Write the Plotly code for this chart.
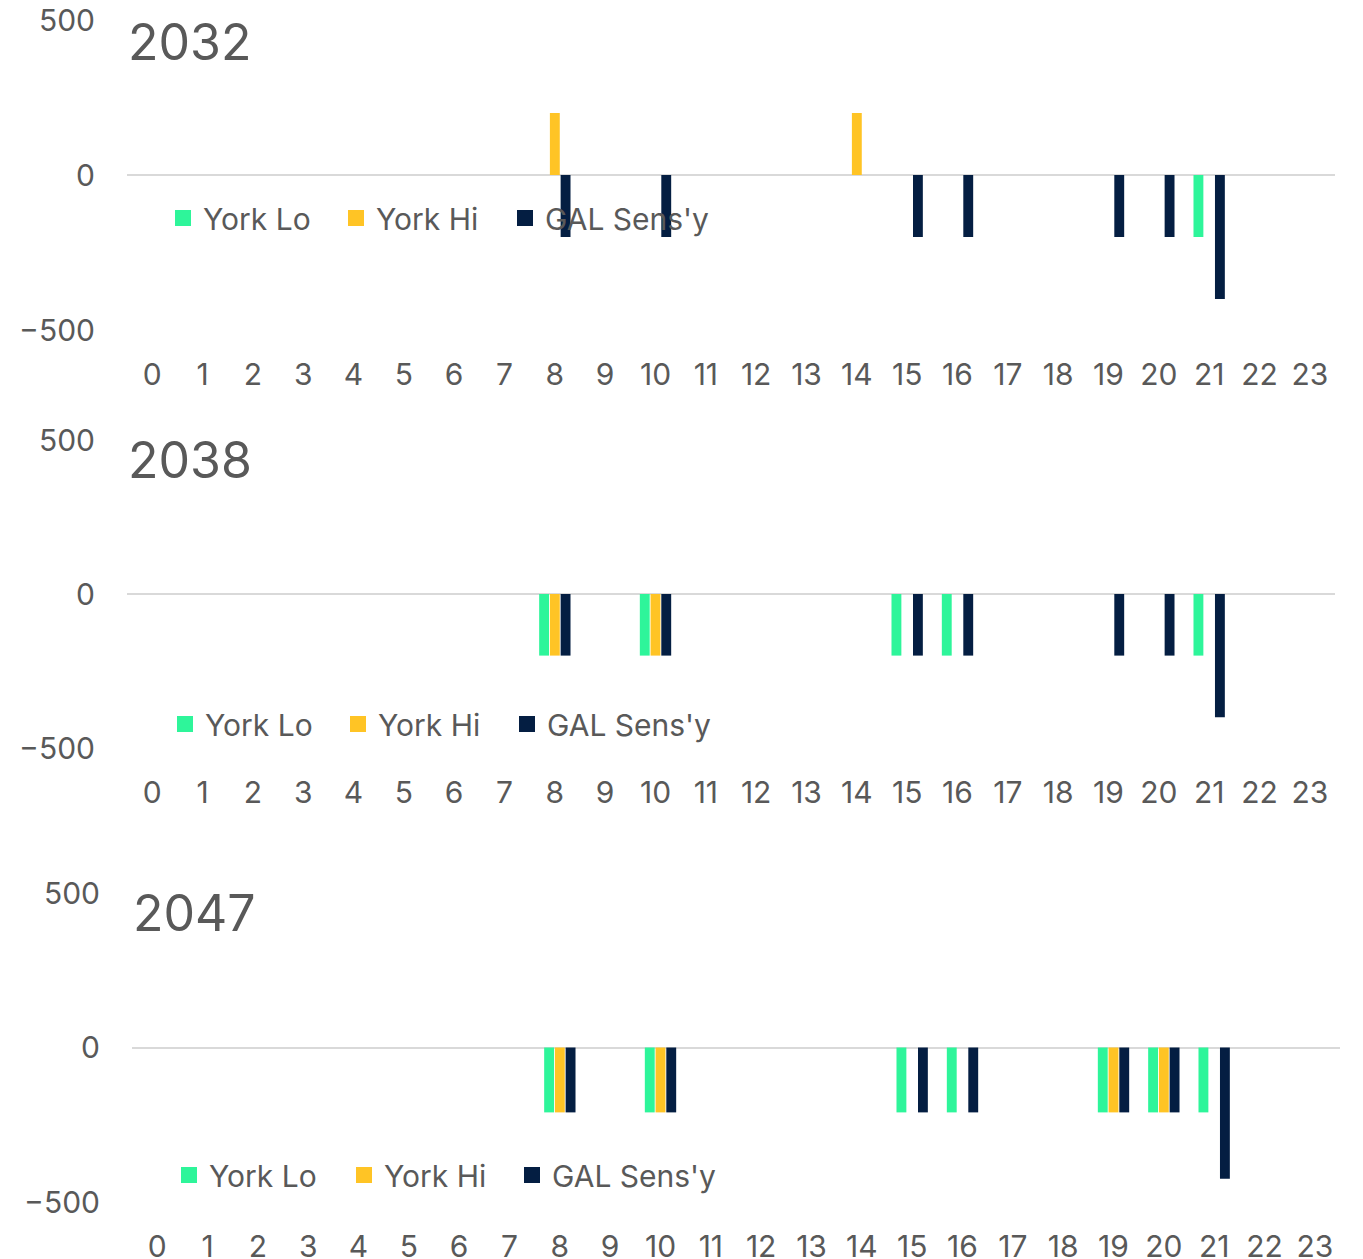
import plotly.graph_objects as go

hours = list(range(24))
series_names = ["York Lo", "York Hi", "GAL Sens'y"]
colors = ["#2EF59A", "#FFC425", "#041E42"]
years = ["2032", "2038", "2047"]

# values per year per series (0 = no bar)
lo_2032 = [0]*21 + [-200, 0, 0]
hi_2032 = [0]*8 + [200] + [0]*5 + [200] + [0]*9
gal_2032 = [0]*8 + [-200, 0, -200, 0, 0, 0, 0, -200, -200, 0, 0, -200, -200, -400, 0, 0]

lo_2038 = [0]*8 + [-200, 0, -200, 0, 0, 0, 0, -200, -200, 0, 0, 0, 0, -200, 0, 0]
hi_2038 = [0]*8 + [-200, 0, -200] + [0]*13
gal_2038 = [0]*8 + [-200, 0, -200, 0, 0, 0, 0, -200, -200, 0, 0, -200, -200, -400, 0, 0]

lo_2047 = [0]*8 + [-210, 0, -210, 0, 0, 0, 0, -210, -210, 0, 0, -210, -210, -210, 0, 0]
hi_2047 = [0]*8 + [-210, 0, -210, 0, 0, 0, 0, 0, 0, 0, 0, -210, -210, 0, 0, 0]
gal_2047 = [0]*8 + [-210, 0, -210, 0, 0, 0, 0, -210, -210, 0, 0, -210, -210, -425, 0, 0]

data = {
    "2032": [lo_2032, hi_2032, gal_2032],
    "2038": [lo_2038, hi_2038, gal_2038],
    "2047": [lo_2047, hi_2047, gal_2047],
}

PAGE_MARGIN = 8  # default body margin of the html page
W, H = 1363 - 2 * PAGE_MARGIN, 1259
FONT = "Inter"
TXT = "#595959"
FS = 30

def py(y):
    return 1 - (y - PAGE_MARGIN) / H

def px_(x):
    return (x - PAGE_MARGIN) / W

# panel geometry (screen pixels)
panels = [
    dict(top=20, bottom=330, left=127, right=1335, title_y=42, title_x=126,
         leg_y=218, leg_x=[175, 348, 517]),
    dict(top=440, bottom=748, left=127, right=1335, title_y=460, title_x=126,
         leg_y=724, leg_x=[177, 350, 519]),
    dict(top=893, bottom=1202, left=132, right=1340, title_y=913, title_x=131,
         leg_y=1175, leg_x=[181, 356, 524]),
]

fig = go.Figure()
layout = dict(
    width=W, height=H, margin=dict(l=0, r=0, t=0, b=0, autoexpand=False),
    plot_bgcolor="white", paper_bgcolor="white",
    barmode="group", bargap=0.36, bargroupgap=0.08,
    font=dict(family=FONT, color=TXT, size=FS),
    annotations=[],
)

leg_idx = 0
for i, (yr, p) in enumerate(zip(years, panels)):
    ax = "" if i == 0 else str(i + 1)
    for j, (name, col, vals) in enumerate(zip(series_names, colors, data[yr])):
        fig.add_trace(go.Bar(
            x=hours, y=vals, name=name, marker=dict(color=col, line=dict(width=0)),
            xaxis="x" + ax, yaxis="y" + ax, showlegend=False,
        ))
        leg_idx += 1
        leg = "legend" if leg_idx == 1 else f"legend{leg_idx}"
        fig.add_trace(go.Scatter(
            x=[None], y=[None], mode="markers", name=name,
            marker=dict(symbol="square", size=16, color=col),
            xaxis="x" + ax, yaxis="y" + ax, legend=leg, showlegend=True,
        ))
        layout[leg] = dict(
            orientation="h", x=px_(p["leg_x"][j] - 12), xanchor="left",
            y=py(p["leg_y"]), yanchor="middle",
            font=dict(size=FS, color=TXT, family=FONT),
            bgcolor="rgba(0,0,0,0)", itemclick=False, itemdoubleclick=False,
        )
    layout["xaxis" + ax] = dict(
        domain=[px_(p["left"]), px_(p["right"])], anchor="y" + ax,
        range=[-0.5, 23.5], tickvals=hours, ticktext=[str(h) for h in hours],
        showgrid=False, zeroline=False, showline=False, automargin=False,
        ticks="outside", ticklen=18, tickcolor="rgba(0,0,0,0)",
        ticklabeloverflow="allow",
        tickfont=dict(size=FS, color=TXT, family=FONT),
    )
    layout["yaxis" + ax] = dict(
        domain=[py(p["bottom"]), py(p["top"])], anchor="x" + ax,
        range=[-500, 500], tickvals=[-500, 0, 500],
        showgrid=False, zeroline=True, zerolinecolor="#D9D9D9", zerolinewidth=2,
        showline=False, automargin=False, ticks="outside", ticklen=25,
        tickcolor="rgba(0,0,0,0)", ticklabeloverflow="allow",
        tickfont=dict(size=FS, color=TXT, family=FONT),
    )
    layout["annotations"].append(dict(
        text=yr, xref="paper", yref="paper", x=px_(p["title_x"]), y=py(p["title_y"]),
        xanchor="left", yanchor="middle", showarrow=False,
        font=dict(size=50, color=TXT, family=FONT),
    ))

fig.update_layout(**layout)
fig.write_html("out.html")
